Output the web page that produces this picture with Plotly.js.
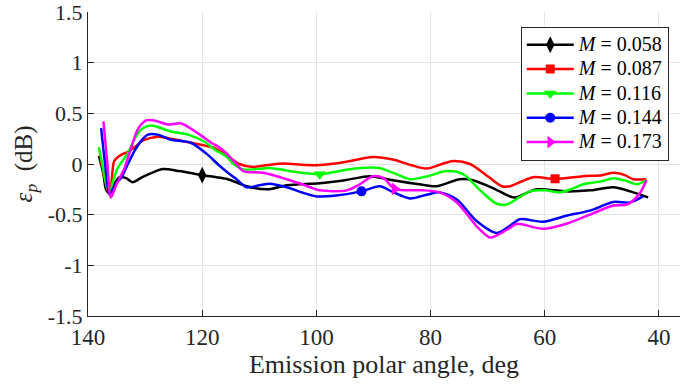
<!DOCTYPE html>
<html>
<head>
<meta charset="utf-8">
<script src="https://cdn.plot.ly/plotly-3.0.1.min.js"></script>
<style>html,body{margin:0;padding:0;background:#fff;}#chart{width:680px;height:385px;}</style>
</head>
<body>
<div id="chart"></div>
<script>
// ---- data (emission polar angle in deg, epsilon_p in dB) ----
const seriesNames = ["0.058", "0.087", "0.116", "0.144", "0.173"];
const seriesColors = ["#000000", "#ff0000", "#00ff00", "#0000ff", "#ff00ff"];
const seriesSymbols = ["diamond-tall", "square", "triangle-down", "circle", "triangle-right"];

const x058 = [138.1, 137.3, 136.85, 136.25, 135.4, 134.5, 133.3, 132.2, 130.5, 128.5, 126.9, 124, 120, 117.5, 115.5, 112.2, 108.5, 105.2, 99.4, 95, 90.6, 86.6, 82, 79, 74.9, 72.6, 69, 66.1, 65.2, 61.4, 56.2, 52, 48.0, 45, 41.9];
const y058 = [0.08, -0.1, -0.25, -0.29, -0.2, -0.13, -0.14, -0.18, -0.13, -0.08, -0.05, -0.07, -0.11, -0.13, -0.15, -0.22, -0.25, -0.21, -0.19, -0.16, -0.12, -0.16, -0.2, -0.22, -0.15, -0.16, -0.24, -0.32, -0.33, -0.25, -0.27, -0.26, -0.23, -0.27, -0.33];

const x087 = [137.8, 137.0, 136.5, 136.0, 135.4, 134.2, 133, 131.5, 130.4, 127.8, 125.5, 123.7, 120.2, 117.9, 115.5, 113.5, 111.1, 108.5, 105.8, 102, 99.4, 95, 90.1, 86.6, 83.5, 80.7, 78, 76.0, 73.1, 70, 67.5, 66.1, 64, 62.0, 58.2, 53.3, 50, 48.0, 46, 44.5, 42.2];
const y087 = [0.05, -0.15, -0.27, -0.22, 0.03, 0.09, 0.12, 0.18, 0.23, 0.27, 0.25, 0.23, 0.19, 0.16, 0.077, 0.0, -0.03, -0.01, 0.005, -0.01, -0.01, 0.02, 0.07, 0.045, -0.01, -0.045, 0.0, 0.03, 0.0, -0.12, -0.22, -0.22, -0.17, -0.13, -0.146, -0.12, -0.11, -0.087, -0.11, -0.15, -0.15];

const x116 = [138.1, 137.5, 136.8, 136.25, 135.5, 134.8, 133, 131.8, 130.7, 129, 127, 125.5, 122.5, 119.6, 117.5, 115.8, 114.5, 112.8, 110.5, 108.2, 103.5, 99.4, 95, 92.4, 89, 86, 83.6, 80.5, 77.2, 74.3, 71.5, 68.5, 66.7, 64.5, 62.6, 60, 57.3, 55, 53.3, 50, 48, 45.5, 43.9, 42.2];
const y116 = [0.165, 0.0, -0.2, -0.27, -0.15, -0.04, 0.11, 0.25, 0.34, 0.38, 0.35, 0.32, 0.29, 0.22, 0.13, 0.077, 0.0, -0.055, -0.05, -0.04, -0.08, -0.10, -0.06, -0.04, -0.04, -0.1, -0.15, -0.12, -0.07, -0.10, -0.25, -0.39, -0.40, -0.33, -0.27, -0.26, -0.28, -0.24, -0.2, -0.17, -0.14, -0.17, -0.2, -0.16];

const x144 = [137.7, 137.0, 136.25, 135.2, 134.2, 133, 131.9, 130.5, 129.5, 127.8, 125.5, 122, 119, 117.3, 115.5, 114, 112.2, 110, 108.2, 105.2, 102, 100, 96.5, 92.1, 88.9, 86.5, 83.6, 80.5, 78.4, 75.4, 72, 68.4, 66.1, 64.4, 60.3, 56.2, 52.1, 48, 45.1, 42.8];
const y144 = [0.355, 0.0, -0.30, -0.2, -0.136, 0.0, 0.125, 0.24, 0.29, 0.29, 0.24, 0.21, 0.09, 0.0, -0.087, -0.15, -0.23, -0.21, -0.195, -0.23, -0.29, -0.32, -0.31, -0.27, -0.22, -0.28, -0.34, -0.3, -0.28, -0.35, -0.56, -0.68, -0.61, -0.545, -0.57, -0.51, -0.46, -0.375, -0.38, -0.32];

const x173 = [137.3, 136.6, 136.0, 135, 133.6, 132.5, 131.3, 129.8, 128.4, 126, 123.7, 120.8, 118.4, 116.9, 115.5, 114, 112.8, 109.3, 105.2, 102, 99.4, 94.7, 92.4, 90.1, 88.3, 86.3, 81.3, 78.4, 75.4, 72, 69.6, 67.9, 66.1, 64.9, 60.3, 56.2, 52.1, 48, 45.6, 43.5, 42.2];
const y173 = [0.42, 0.0, -0.33, -0.2, -0.04, 0.15, 0.34, 0.43, 0.43, 0.39, 0.40, 0.305, 0.21, 0.16, 0.09, 0.0, -0.07, -0.087, -0.15, -0.21, -0.26, -0.26, -0.2, -0.12, -0.136, -0.245, -0.26, -0.28, -0.38, -0.61, -0.725, -0.69, -0.63, -0.59, -0.64, -0.59, -0.50, -0.41, -0.40, -0.3, -0.16];

// single marker position on each curve
const markerX = [120, 58.2, 99.4, 92.1, 86.3];
const markerY = [-0.11, -0.146, -0.10, -0.27, -0.245];

const xTickVals = [140, 120, 100, 80, 60, 40];
const yTickVals = [-1.5, -1, -0.5, 0, 0.5, 1, 1.5];
const yTickText = ["-1.5", "-1", "-0.5", "0", "0.5", "1", "1.5"];

// ---- build traces ----
const xs = [x058, x087, x116, x144, x173];
const ys = [y058, y087, y116, y144, y173];
const markerSizes = [12, 9, 11, 10, 11];
const traces = [];
for (let i = 0; i < xs.length; i++) {
  traces.push({
    x: xs[i], y: ys[i], type: "scatter", mode: "lines",
    line: {color: seriesColors[i], width: 2.5, shape: "spline", smoothing: 0.8},
    showlegend: false, hoverinfo: "skip"
  });
}
for (let i = 0; i < xs.length; i++) {
  traces.push({
    x: [markerX[i]], y: [markerY[i]], type: "scatter", mode: "lines+markers",
    name: '<span style="font-size:20px"><i>M</i> = ' + seriesNames[i] + '</span>',
    line: {color: seriesColors[i], width: 2.5},
    marker: {color: seriesColors[i], symbol: seriesSymbols[i], size: markerSizes[i]}
  });
}

const font = "Liberation Serif";
const layout = {
  width: 680, height: 385,
  margin: {l: 88, r: 0, t: 12, b: 69},
  paper_bgcolor: "#ffffff", plot_bgcolor: "#ffffff",
  font: {family: font, size: 22, color: "#262626"},
  xaxis: {
    range: [140, 36.32], autorange: false,
    tickmode: "array", tickvals: xTickVals, ticktext: xTickVals.map(String),
    ticks: "inside", ticklen: 6, tickcolor: "#262626", tickwidth: 1,
    showline: true, linecolor: "#262626", linewidth: 1, mirror: false,
    showgrid: true, gridcolor: "#e5e5e5", gridwidth: 1, zeroline: false,
    ticklabeloverflow: "allow",
    tickfont: {family: font, size: 23, color: "#262626"},
    title: {text: "Emission polar angle, deg", font: {family: font, size: 26, color: "#262626"}, standoff: 6}
  },
  yaxis: {
    range: [-1.5, 1.5], autorange: false,
    tickmode: "array", tickvals: yTickVals, ticktext: yTickText,
    ticks: "inside", ticklen: 6, tickcolor: "#262626", tickwidth: 1,
    showline: true, linecolor: "#262626", linewidth: 1, mirror: false,
    showgrid: true, gridcolor: "#e5e5e5", gridwidth: 1, zeroline: false,
    ticklabeloverflow: "allow",
    tickfont: {family: font, size: 22, color: "#262626"},
    title: {text: "<i>ε</i><sub><i>p</i></sub>  (dB)", font: {family: font, size: 25, color: "#262626"}, standoff: 8}
  },
  legend: {
    x: 0.731, y: 0.952, xanchor: "left", yanchor: "top",
    bgcolor: "#ffffff", bordercolor: "#262626", borderwidth: 1,
    font: {family: font, size: 16.4, color: "#000000"},
    itemwidth: 47, tracegroupgap: 0
  },
  showlegend: true
};

Plotly.newPlot("chart", traces, layout, {staticPlot: true, displayModeBar: false});
</script>
</body>
</html>
